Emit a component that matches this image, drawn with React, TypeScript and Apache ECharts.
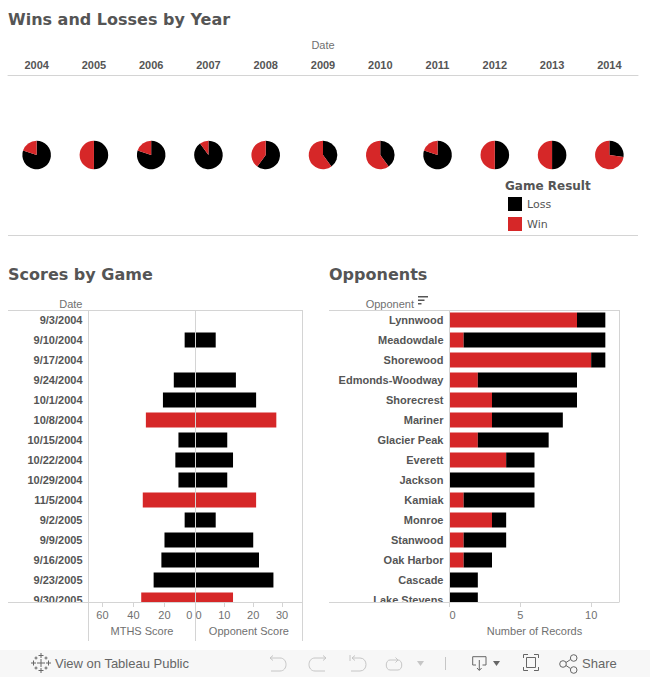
import React, { useEffect, useRef } from "react";
import * as echarts from "echarts";

const years = ["2004","2005","2006","2007","2008","2009","2010","2011","2012","2013","2014"];
const yearLosses = [8,5,8,9,6,4,4,8,5,5,3];
const yearWins = [2,5,2,1,4,6,6,2,5,5,8];

const gameDates = ["9/3/2004","9/10/2004","9/17/2004","9/24/2004","10/1/2004","10/8/2004","10/15/2004","10/22/2004","10/29/2004","11/5/2004","9/2/2005","9/9/2005","9/16/2005","9/23/2005","9/30/2005"];
const mthsScores = [0,7,0,14,21,32,11,13,11,34,7,20,22,27,35];
const opponentScores = [0,7,0,14,21,28,11,13,11,21,7,20,22,27,13];
const gameResults = ["Loss","Loss","Loss","Loss","Loss","Win","Loss","Loss","Loss","Win","Loss","Loss","Loss","Loss","Win"];

const opponents = ["Lynnwood","Meadowdale","Shorewood","Edmonds-Woodway","Shorecrest","Mariner","Glacier Peak","Everett","Jackson","Kamiak","Monroe","Stanwood","Oak Harbor","Cascade","Lake Stevens"];
const opponentWins = [9,1,10,2,3,3,2,4,0,1,3,1,1,0,0];
const opponentLosses = [2,10,1,7,6,5,5,2,6,5,1,3,2,2,2];

const RED = "#d62728";
const BLACK = "#000000";
const GRID = "#d4d4d4";
const SANS = '"Liberation Sans", Arial, sans-serif';
const DEJA = '"DejaVu Sans", Verdana, sans-serif';
const resultColor: Record<string, string> = { Win: RED, Loss: BLACK };

const iconsLight =
  "M270 658H280C288 658 288 671 280 671H271M273 655.5L270 658L273 660.5" +
  "M326 658H315C307 658 307 671 315 671H325M323 655.5L326 658L323 660.5" +
  "M350 655V661M352 658H360C368 658 368 671 360 671H351M355 655.5L352 658L355 660.5" +
  "M398 660H390C385 660 385 670 390 670H398C403 670 403 660 398 660M395.5 657.5L398 660L395.5 662.5";
const iconsDark =
  "M476 665H472.7V656.7H486V665H482.5M479.3 660V670M477 668L479.3 670.5L481.6 668" +
  "M523.5 658V654.5H528M534 654.5H538.5V658M538.5 667V670.5H534M528 670.5H523.5V667" +
  "M526.5 657.5H535.5V667.5H526.5Z" +
  "M566 662.5L570.5 659.5M566 665.5L570.5 668.5" +
  "M566.3 664a3.3 3.3 0 1 0 -6.6 0a3.3 3.3 0 1 0 6.6 0" +
  "M577 658a3.3 3.3 0 1 0 -6.6 0a3.3 3.3 0 1 0 6.6 0" +
  "M577 670a3.3 3.3 0 1 0 -6.6 0a3.3 3.3 0 1 0 6.6 0";
const cross = (x: number, y: number, r: number) => `M${x - r} ${y}H${x + r}M${x} ${y - r}V${y + r}`;
const logoIcon = [
  cross(41, 663, 4), cross(41, 655.5, 2.5), cross(41, 670.5, 2.5), cross(33.5, 663, 2.5), cross(48.5, 663, 2.5),
  cross(36, 658, 1.5), cross(46, 658, 1.5), cross(36, 668, 1.5), cross(46, 668, 1.5),
].join("");

echarts.graphic.registerShape("iconsLight", echarts.graphic.extendPath(iconsLight, {}));
echarts.graphic.registerShape("iconsDark", echarts.graphic.extendPath(iconsDark, {}));
echarts.graphic.registerShape("logoIcon", echarts.graphic.extendPath(logoIcon, {}));

const line = (x1: number, y1: number, x2: number, y2: number, stroke = GRID) => ({
  type: "line", z: 60, shape: { x1, y1, x2, y2 }, style: { stroke, lineWidth: 1 },
});
const text = (t: string, x: number, y: number, font: string, fill: string, textAlign = "left") => ({
  type: "text", z: 60, x, y,
  style: { text: t, font, fill, textAlign, textVerticalAlign: "middle" },
});
const rect = (x: number, y: number, width: number, height: number, fill: string, z = 60) => ({
  type: "rect", z, shape: { x, y, width, height }, style: { fill },
});
const tri = (x1: number, x2: number, y: number, h: number, fill: string) => ({
  type: "polygon", z: 60, shape: { points: [[x1, y], [x2, y], [(x1 + x2) / 2, y + h]] }, style: { fill },
});

const HDR = `bold 16px ${DEJA}`;
const graphics = [
  rect(0, 603, 650, 47, "#ffffff", 50),
  rect(0, 650, 650, 27, "#f7f7f7", 51),
  text("Wins and Losses by Year", 8, 19, HDR, "#555555"),
  text("Scores by Game", 8, 274.5, HDR, "#555555"),
  text("Opponents", 329, 274.5, HDR, "#555555"),
  text("Game Result", 505, 185.5, `bold 12px ${DEJA}`, "#555555"),
  text("Date", 82.5, 303.5, `11px ${SANS}`, "#707070", "right"),
  text("Opponent", 414, 303.5, `11px ${SANS}`, "#707070", "right"),
  rect(418, 296, 10, 1.5, "#555555"),
  rect(418, 299.5, 6.5, 1.5, "#555555"),
  rect(418, 303, 3.5, 1.5, "#555555"),
  line(8, 235.5, 638, 235.5),
  line(8, 310.5, 302.5, 310.5),
  line(8, 602.5, 302.5, 602.5),
  line(88.5, 310, 88.5, 641),
  line(195.5, 310, 195.5, 641),
  line(302.5, 310, 302.5, 641),
  line(329, 310.5, 619.5, 310.5),
  line(329, 602.5, 619.5, 602.5),
  line(449.5, 310, 449.5, 602),
  line(619.5, 310, 619.5, 602),
  text("View on Tableau Public", 55, 663, `13px ${SANS}`, "#666666"),
  text("Share", 582, 663.5, `13px ${SANS}`, "#666666"),
  { type: "iconsLight", z: 60, x: 0, y: 0, style: { fill: "none", stroke: "#c6c6c6", lineWidth: 1 } },
  { type: "iconsDark", z: 60, x: 0, y: 0, style: { fill: "none", stroke: "#666666", lineWidth: 1 } },
  { type: "logoIcon", z: 60, x: 0, y: 0, style: { fill: "none", stroke: "#666666", lineWidth: 1 } },
  tri(417, 424, 661, 5, "#c6c6c6"),
  tri(493, 500, 661, 5, "#666666"),
  line(445.5, 657, 445.5, 670, "#c6c6c6"),
];

const YEAR_LEFT = 8;
const YEAR_WIDTH = 630;
const pieSeries = years.map((y, i) => ({
  type: "pie",
  name: y,
  silent: true,
  radius: 14.3,
  center: [YEAR_LEFT + ((i + 0.5) * YEAR_WIDTH) / years.length, 155],
  startAngle: 90,
  clockwise: true,
  label: { show: false },
  labelLine: { show: false },
  data: [
    { name: "Loss", value: yearLosses[i], itemStyle: { color: BLACK } },
    { name: "Win", value: yearWins[i], itemStyle: { color: RED } },
  ],
}));

const valueAxis = (gridIndex: number, max: number, interval: number, name: string, labelExtra: any, ticks: number[], inverse = false) => ({
  type: "value",
  gridIndex,
  min: 0,
  max,
  interval,
  inverse,
  z: 100,
  position: "bottom",
  offset: -8,
  name,
  nameLocation: "middle",
  nameGap: 23,
  nameTextStyle: { fontFamily: SANS, fontSize: 11, color: "#707070" },
  splitLine: { show: false },
  axisLine: { show: false },
  axisTick: { show: true, length: 5, lineStyle: { color: GRID }, customValues: ticks },
  axisLabel: { fontFamily: SANS, fontSize: 11, color: "#707070", margin: 7, showMaxLabel: false, ...labelExtra },
});

const catAxis = (gridIndex: number, data: string[], show: boolean) => ({
  type: "category",
  gridIndex,
  data,
  inverse: true,
  axisLine: { show: false },
  axisTick: { show: false },
  axisLabel: { show, fontFamily: SANS, fontWeight: "bold", fontSize: 11, color: "#555555", margin: 6, interval: 0 },
});

const option: any = {
  animation: false,
  backgroundColor: "#ffffff",
  legend: {
    left: 508, top: 197, orient: "vertical", padding: 0,
    itemWidth: 14, itemHeight: 14, itemGap: 6, icon: "rect", selectedMode: false,
    data: ["Loss", "Win"],
    textStyle: { fontFamily: DEJA, fontSize: 11, color: "#555555" },
  },
  graphic: { elements: graphics },
  grid: [
    { left: YEAR_LEFT, width: YEAR_WIDTH, top: 75.5, height: 160 },
    { left: 88.5, width: 107, top: 310, height: 300 },
    { left: 195.5, width: 106.8, top: 310, height: 300 },
    { left: 449.5, width: 170, top: 310, height: 300 },
  ],
  xAxis: [
    {
      type: "category", gridIndex: 0, position: "top", data: years,
      name: "Date", nameLocation: "middle", nameGap: 25,
      nameTextStyle: { fontFamily: SANS, fontSize: 11, color: "#707070" },
      axisLine: { show: true, onZero: false, lineStyle: { color: GRID } },
      axisTick: { show: false },
      axisLabel: { fontFamily: SANS, fontWeight: "bold", fontSize: 11, color: "#555555", margin: 5, interval: 0 },
    },
    valueAxis(1, 69, 20, "MTHS Score", { alignMinLabel: "right", formatter: (v: number) => (v === 0 ? "0 " : String(v)) }, [0, 20, 40, 60], true),
    valueAxis(2, 37, 10, "Opponent Score", { alignMinLabel: "left" }, [0, 10, 20, 30]),
    valueAxis(3, 12, 5, "Number of Records", { alignMinLabel: "left" }, [0, 5, 10]),
  ],
  yAxis: [
    { type: "value", gridIndex: 0, show: false },
    catAxis(1, gameDates, true),
    catAxis(2, gameDates, false),
    catAxis(3, opponents, true),
  ],
  series: [
    ...pieSeries,
    {
      type: "bar", name: "MTHS Score", xAxisIndex: 1, yAxisIndex: 1, barWidth: 15, silent: true,
      data: mthsScores.map((value, i) => ({ value, itemStyle: { color: resultColor[gameResults[i]] } })),
    },
    {
      type: "bar", name: "Opponent Score", xAxisIndex: 2, yAxisIndex: 2, barWidth: 15, silent: true,
      data: opponentScores.map((value, i) => ({ value, itemStyle: { color: resultColor[gameResults[i]] } })),
    },
    {
      type: "bar", name: "Win", stack: "records", xAxisIndex: 3, yAxisIndex: 3, barWidth: 15, silent: true,
      itemStyle: { color: RED }, data: opponentWins,
    },
    {
      type: "bar", name: "Loss", stack: "records", xAxisIndex: 3, yAxisIndex: 3, barWidth: 15, silent: true,
      itemStyle: { color: BLACK }, data: opponentLosses,
    },
  ],
};

export default function App() {
  const ref = useRef<HTMLDivElement>(null);
  useEffect(() => {
    const chart = echarts.init(ref.current!, undefined, { renderer: "svg", width: 650, height: 677 });
    chart.setOption(option);
    return () => chart.dispose();
  }, []);
  return <div ref={ref} style={{ position: "fixed", left: 0, top: 0, width: 650, height: 677 }} />;
}
